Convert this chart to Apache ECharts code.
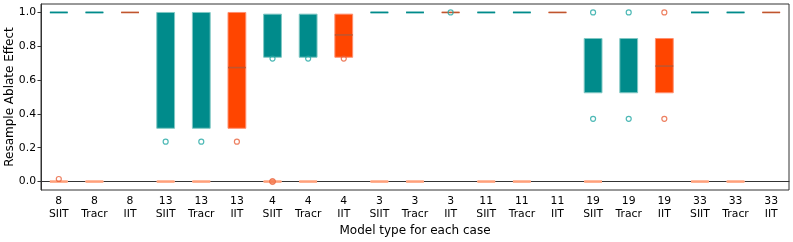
<!DOCTYPE html>
<html>
<head>
<meta charset="utf-8">
<script src="https://cdn.jsdelivr.net/npm/echarts@6/dist/echarts.min.js"></script>
<style>
html,body{margin:0;padding:0;background:#fff;}
#chart{width:793px;height:242px;}
</style>
</head>
<body>
<div id="chart"></div>
<script>
// ---- data ----
const cases = ['8','8','8','13','13','13','4','4','4','3','3','3','11','11','11','19','19','19','33','33','33'];
const models = ['SIIT','Tracr','IIT','SIIT','Tracr','IIT','SIIT','Tracr','IIT','SIIT','Tracr','IIT','SIIT','Tracr','IIT','SIIT','Tracr','IIT','SIIT','Tracr','IIT'];
const categories = cases.map((c, i) => c + '\n' + models[i]);

// main boxes: lower quartile, median, upper quartile
const mainQ1  = [1,1,1, 0.315,0.315,0.315, 0.735,0.735,0.735, 1,1,1, 1,1,1, 0.525,0.525,0.525, 1,1,1];
const mainMed = [1,1,1, 0.674,0.674,0.674, 0.867,0.867,0.867, 1,1,1, 1,1,1, 0.683,0.683,0.683, 1,1,1];
const mainQ3  = [1,1,1, 1.0,1.0,1.0, 0.99,0.99,0.99, 1,1,1, 1,1,1, 0.846,0.846,0.846, 1,1,1];

// secondary boxes near zero (null = not drawn)
const zeroQ1  = [0,0,null, 0,0,null, 0,0,null, 0,0,null, 0,0,null, 0,null,null, 0,0,null];
const zeroMed = [0,0,null, 0,0,null, 0,0,null, 0,0,null, 0,0,null, 0,null,null, 0,0,null];
const zeroQ3  = [0,0,null, 0,0,null, 0,0,null, 0,0,null, 0,0,null, 0,null,null, 0,0,null];

// outliers: [category index, value]
const tealOutliers   = [[3,0.236],[4,0.236],[6,0.727],[7,0.727],[11,1.0],[15,1.0],[15,0.371],[16,1.0],[16,0.371]];
const orangeOutliers = [[5,0.236],[8,0.727],[17,1.0],[17,0.371],[0,0.015]];
const orangeDots     = [[6,0.0]];

const yTicks = [0, 0.2, 0.4, 0.6, 0.8, 1.0];

// ---- styles ----
const TEAL = '#008B8B', TEAL_EDGE = '#80c8c4', TEAL_MED = '#008B8B';
const RED = '#FF4500', RED_EDGE = '#ff9070', RED_MED = '#c0552e';
const SALMON = '#FFA07A';

function boxData(q1, med, q3) {
  const out = [];
  for (let i = 0; i < q1.length; i++) {
    if (q1[i] === null) continue;
    out.push([i, q1[i], med[i], q3[i]]);
  }
  return out;
}

function makeRender(kind) {
  return function (params, api) {
    const i = api.value(0);
    const q1 = api.value(1), med = api.value(2), q3 = api.value(3);
    const lo = api.coord([i, q1]), hi = api.coord([i, q3]), m = api.coord([i, med]);
    const bw = api.size([1, 0])[0] * 0.5;
    const cx = lo[0];
    let fill, edge, medc, mw;
    if (kind === 'zero') { fill = SALMON; edge = SALMON; medc = SALMON; mw = 2.5; }
    else if (models[i] === 'IIT') { fill = RED; edge = RED_EDGE; medc = RED_MED; mw = 1.6; }
    else { fill = TEAL; edge = TEAL_EDGE; medc = TEAL_MED; mw = 1.8; }
    const children = [
      { type: 'rect', shape: { x: cx - bw / 2, y: hi[1], width: bw, height: lo[1] - hi[1] },
        style: { fill: fill, stroke: edge, lineWidth: 1 } }
    ];
    // a median the same colour as the fill is invisible inside an open box
    if (!(medc === fill && q3 - q1 > 0.01)) {
      children.push({ type: 'rect', shape: { x: cx - bw / 2, y: m[1] - mw / 2, width: bw, height: mw },
        style: { fill: medc, stroke: medc, lineWidth: 0.01 } });
    }
    return { type: 'group', children: children };
  };
}

const chart = echarts.init(document.getElementById('chart'), null, { renderer: 'canvas' });
const FONT = 'DejaVu Sans';
chart.setOption({
  animation: false,
  grid: { left: 41, right: 4, top: 4, bottom: 52, outerBoundsMode: 'none', containLabel: false,
          show: true, borderColor: '#333', borderWidth: 1, backgroundColor: 'transparent' },
  xAxis: {
    type: 'category',
    data: categories,
    boundaryGap: true,
    name: 'Model type for each case',
    nameLocation: 'middle',
    nameGap: 35,
    nameMoveOverlap: false,
    nameTextStyle: { fontFamily: FONT, fontSize: 12, color: '#000' },
    axisLine: { lineStyle: { color: '#333' } },
    axisTick: { alignWithLabel: true, length: 3.5, lineStyle: { color: '#333' } },
    axisLabel: { interval: 0, fontFamily: FONT, fontSize: 10.8, color: '#000', lineHeight: 12.5, margin: 5 },
    splitLine: { show: false }
  },
  yAxis: {
    type: 'value',
    min: -0.05,
    max: 1.05,
    name: 'Resample Ablate Effect',
    nameLocation: 'middle',
    nameGap: 25,
    nameMoveOverlap: false,
    nameTextStyle: { fontFamily: FONT, fontSize: 12, color: '#000' },
    axisLine: { show: true, lineStyle: { color: '#333' } },
    axisTick: { show: true, length: 3.5, customValues: yTicks, lineStyle: { color: '#333' } },
    axisLabel: { customValues: yTicks, fontFamily: FONT, fontSize: 10.8, color: '#000', margin: 5,
                 formatter: v => v.toFixed(1) },
    splitLine: { show: false }
  },
  series: [
    { type: 'custom', renderItem: makeRender('zero'), data: boxData(zeroQ1, zeroMed, zeroQ3),
      encode: { x: 0, y: [1, 2, 3] }, z: 2 },
    { type: 'custom', renderItem: makeRender('main'), data: boxData(mainQ1, mainMed, mainQ3),
      encode: { x: 0, y: [1, 2, 3] }, z: 3 },
    { type: 'scatter', data: tealOutliers, symbol: 'circle', symbolSize: 5, z: 5,
      itemStyle: { color: 'rgba(255,255,255,0)', borderColor: '#22a8a4', borderWidth: 1.2 } },
    { type: 'scatter', data: orangeOutliers, symbol: 'circle', symbolSize: 5, z: 5,
      itemStyle: { color: 'rgba(255,255,255,0)', borderColor: '#e8603a', borderWidth: 1.2 } },
    { type: 'scatter', data: orangeDots, symbol: 'circle', symbolSize: 6, z: 5,
      itemStyle: { color: '#f47a4f', borderColor: '#e8603a', borderWidth: 1 } }
  ]
});
</script>
</body>
</html>
